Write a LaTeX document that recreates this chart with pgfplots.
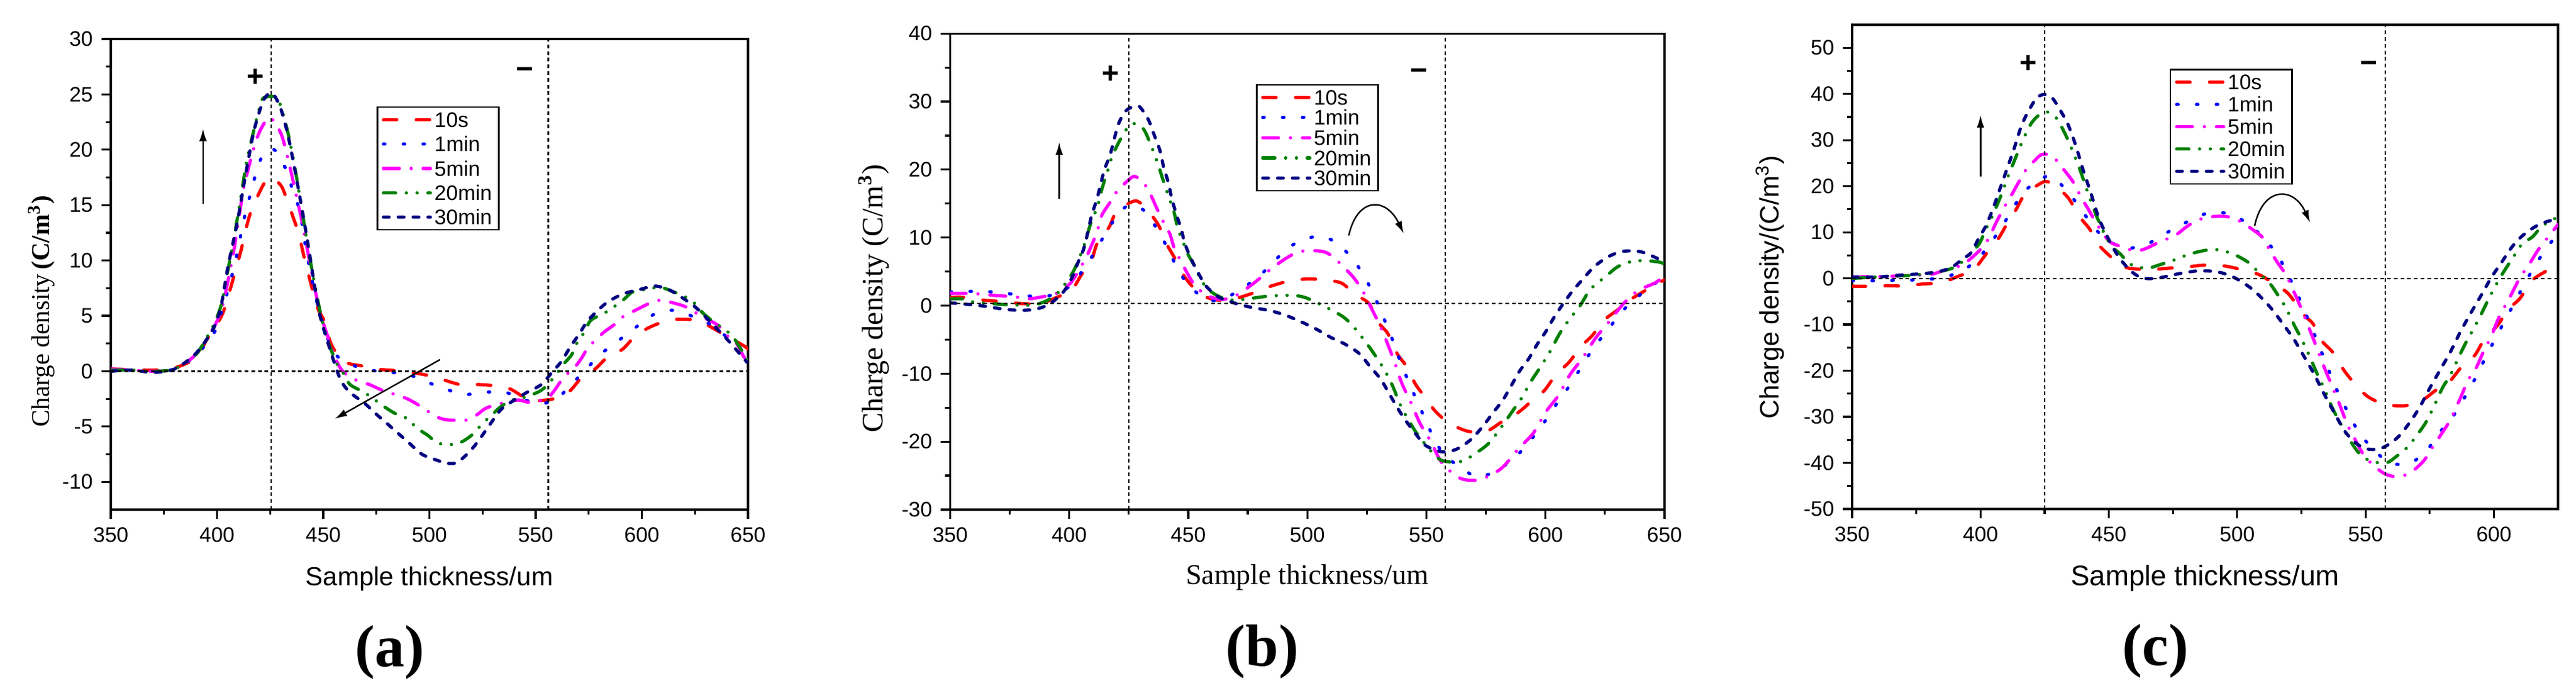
\documentclass[border=0pt]{standalone}
\usepackage{pgfplots}
\pgfplotsset{compat=1.18}
\usepackage{fontspec}
\setmainfont{Liberation Sans}
\newfontfamily\tnr{Liberation Serif}
\usetikzlibrary{arrows.meta}
\definecolor{navyc}{RGB}{0,0,128}
\definecolor{greenc}{RGB}{0,128,0}
\definecolor{magc}{RGB}{255,0,255}
\tikzset{
  refl/.style={black, line width=0.55pt, dash pattern=on 1.5pt off 1.2pt},
  arr/.style={black, line width=0.6pt, -{Latex[length=5pt,width=3pt]}},
}
\pgfplotsset{
  s10/.style={color=red, line width=1.3pt, line cap=round, dash pattern=on 5.45pt off 7.8pt},
  s1/.style={color=blue, line width=1.3pt, line cap=round, dash pattern=on 0.6pt off 7.4pt},
  s5/.style={color=magc, line width=1.3pt, line cap=round, dash pattern=on 6.4pt off 4.8pt on 0.05pt off 4.8pt},
  s20/.style={color=greenc, line width=1.3pt, line cap=round, dash pattern=on 4.95pt off 4.3pt on 0.05pt off 4.3pt on 0.05pt off 4.3pt},
  s30/.style={color=navyc, line width=1.3pt, line cap=round, dash pattern=on 2.3pt off 3.7pt},
  every axis/.append style={
    scale only axis,
    axis line style={line width=0.8pt},
    every tick/.style={line width=0.8pt, black},
    major tick length=3.75pt, minor tick length=2pt,
    tick align=outside, xtick pos=bottom, ytick pos=left,
    minor x tick num=1, minor y tick num=1,
    tick label style={font=\fontsize{8.5}{10}\selectfont},
    /pgf/number format/assume math mode=true,
    legend cell align=left,
    legend image code/.code={\draw[##1] (0pt,0pt) -- (19pt,0pt);},
    legend style={font=\fontsize{8.5}{9.5}\selectfont, draw=black, line width=0.6pt, inner sep=1.8pt, row sep=1.5pt,
      nodes={inner xsep=1pt, inner ysep=0pt, text height=6.3pt, text depth=0.3pt}},
    every axis plot/.append style={smooth, no marks},
  }
}
\begin{document}
\begin{tikzpicture}
\useasboundingbox (0,0) rectangle (1040pt,277.75pt);
% ---------------- (a) ----------------
\begin{axis}[at={(44.75pt,72pt)}, anchor=south west, width=257.25pt, height=190pt,
  xmin=350, xmax=650, ymin=-12.5, ymax=30, xtick={350,400,...,650}, ytick={-10,-5,...,30},
  xlabel={Sample thickness/um}, xlabel style={font=\fontsize{10.5}{12}\selectfont, at={(axis description cs:0.5,-0.147)}, anchor=center},
  ylabel={{\tnr Charge density}\,{\tnr\bfseries (C/m\textsuperscript{3})}}, ylabel style={font=\fontsize{10.3}{12}\selectfont, at={(axis description cs:-0.109,0.421)}, anchor=center},
  legend style={at={(0.417,0.857)}, anchor=north west, row sep=3.25pt},
  after end axis/.code={\node[font=\fontsize{24}{24}\selectfont\tnr\bfseries] at (axis description cs:0.438,-0.303) {(a)};}]
\addplot[s10] coordinates {(350,0.2)(360,0.15)(370,0.1)(380,0.3)(390,1.2)(395,2.8)(401,4.6)(403.4,5.6)(407.4,8.2)(411.4,11)(415.4,14.1)(421.4,16.7)(425,17.5)(430,16.8)(432.5,15.7)(436,13.8)(438.5,12.4)(441,10.3)(444.6,7.6)(447.6,5.6)(450.6,4.5)(453.6,2.5)(457.6,1.3)(462,0.7)(467.6,0.5)(474.6,0.2)(487.7,0)(500,-0.4)(507,-0.8)(514.5,-1.2)(522.5,-1.2)(530,-1.3)(538,-1.6)(547,-2.6)(555,-2.6)(560,-2.4)(566,-1.8)(572,-0.5)(578,0.2)(584,1.3)(591,2)(597,3.2)(604,4)(612.5,4.6)(620.5,4.7)(627.5,4.5)(632.5,4.0)(641.5,3)(648,2.3)(650,2.0)};
\addlegendentry{10s}
\addplot[s1] coordinates {(350,0.1)(360,0.1)(370,0)(380,0.2)(390,1.4)(399,3.6)(402,5.3)(405,7.2)(407.5,9)(409.5,10.7)(411.5,12.6)(413.5,14.4)(416,16.2)(418.5,18)(422,19.7)(427,20)(432.5,18.2)(435.5,16.4)(439,14.4)(442,10.9)(445,8)(448,5.5)(452,3)(456,1.5)(460.6,0.8)(469.6,0.2)(479.7,-0.1)(488.7,-0.2)(497.8,-0.9)(507.5,-1.6)(516.5,-2.1)(526,-1.9)(535.6,-1.9)(545,-2.6)(554.2,-2.9)(562.2,-2.1)(568.8,-0.8)(575.3,0.5)(582.3,1.8)(589.9,2.9)(597.4,4)(606.4,5.2)(615.9,5.5)(624.5,4.9)(632.5,4.2)(640.6,3.0)(647.6,1.9)(650,1.3)};
\addlegendentry{1min}
\addplot[s5] coordinates {(350,0.2)(360,0.1)(370,0)(380,0.2)(390,1.5)(398,3.8)(402,5.5)(405,8)(408,11)(410,13.5)(412.5,16.5)(415,18.5)(418,20.6)(421,22)(425,22.9)(430,21.5)(433,19.5)(436,17)(440,13.5)(443,10.5)(446,7.5)(449,5)(452,3.2)(455,1.5)(458,0.3)(461,-0.3)(466.6,-0.9)(471.7,-1.2)(478.7,-1.8)(485.7,-2.2)(490.7,-2.6)(497.8,-3.4)(502,-4)(506,-4.3)(509,-4.4)(518,-4.4)(522.6,-3.9)(527,-3.3)(536,-2.8)(542,-2.6)(547,-2.8)(555,-2.5)(559,-1.7)(563,-0.6)(569,0.5)(572,1.3)(575,2.2)(582,3.5)(587,4.2)(591,4.9)(599,5.7)(604.4,6.2)(609,6.4)(618,6)(623,5.6)(627.5,5)(635.5,4.2)(639.6,3.3)(644.6,2.5)(648,1.3)(650,0.9)};
\addlegendentry{5min}
\addplot[s20] coordinates {(350,0.1)(360,0.1)(370,0)(380,0.2)(390,1.5)(395,3)(398,4)(402,6)(405,9)(408,12)(411,15.5)(414,19)(417,21.5)(420,23.8)(422,24.7)(428,24.7)(431,23.3)(434,21)(437,18)(440,14.5)(443,11)(446,7.8)(449,5)(452,2.8)(456.6,0.6)(459.6,-0.2)(462.6,-1.2)(469.2,-1.9)(473.7,-2.5)(478.7,-3.2)(483.7,-3.8)(489.8,-4.3)(493.8,-5.1)(499.3,-5.8)(504,-6.5)(511.5,-6.6)(516,-6.3)(521,-5.6)(524.6,-4.8)(529.6,-3.9)(533.6,-3.2)(539,-2.6)(544,-2.4)(551,-1.9)(554.7,-1.4)(559.2,-0.4)(563,0.6)(567,1.5)(569.3,2.5)(572.8,3.5)(576,4.6)(582,5.2)(586,5.7)(591,6.4)(596,7.2)(603,7.4)(608.4,7.6)(614.5,7.2)(620.5,6.7)(624.5,6.2)(628.5,5.3)(633.5,4.5)(638.6,3.8)(642.6,3.2)(646.6,2)(650,1)};
\addlegendentry{20min}
\addplot[s30] coordinates {(350,0)(360,0.1)(370,-0.1)(380,0.2)(390,1.6)(398.4,3.9)(402,6)(405,9.3)(409.5,13.4)(413.5,17.8)(417.5,21.8)(422,24.5)(426,25.1)(430,23.7)(433.5,21.2)(437,17.8)(440.5,14.1)(443.5,10.7)(446,7.6)(448.5,5)(451.5,3)(455.5,0.6)(458.5,-0.9)(462.5,-1.9)(469.5,-2.9)(474.5,-3.8)(480.5,-4.8)(490.5,-6.5)(496.5,-7.5)(503,-8)(508,-8.3)(512,-8.3)(516,-7.8)(521,-6.8)(525.6,-5.6)(529.6,-4.5)(534,-3.4)(540,-2.6)(546,-1.9)(552.7,-1.2)(557.7,-0.1)(562.2,0.9)(566.3,2.2)(570.3,3.3)(574.3,4.5)(579.3,5.5)(584.3,6.3)(591.4,7)(599.4,7.4)(605.9,7.7)(612.4,7.4)(618.5,6.7)(624.5,5.9)(629.5,5)(634.5,4)(639.6,3)(644.6,1.9)(649.6,0.8)};
\addlegendentry{30min}
\draw[refl] (axis cs:425.5,-12.5) -- (axis cs:425.5,30);
\draw[refl] (axis cs:556,-12.5) -- (axis cs:556,30);
\draw[refl] (axis cs:350,0) -- (axis cs:650,0);
\node[font=\fontsize{12}{12}\selectfont\bfseries] at (axis cs:418,26.5) {+};
\node[font=\fontsize{12}{12}\selectfont\bfseries] at (axis cs:545,26.9) {−};
\draw[arr] (axis cs:393.4,15.1) -- (axis cs:393.4,21.9);
\draw[arr] (axis cs:505,1.05) -- (axis cs:455.4,-4.3);
\end{axis}
% ---------------- (b) ----------------
\begin{axis}[at={(383.6pt,72pt)}, anchor=south west, width=288.4pt, height=192.2pt,
  xmin=350, xmax=650, ymin=-30, ymax=40, xtick={350,400,...,650}, ytick={-30,-20,...,40},
  xlabel={\tnr Sample thickness/um}, xlabel style={font=\fontsize{11.5}{13}\selectfont, at={(axis description cs:0.5,-0.143)}, anchor=center},
  ylabel={\tnr Charge density (C/m\textsuperscript{\textbf{3}})}, ylabel style={font=\fontsize{12}{14}\selectfont, at={(axis description cs:-0.107,0.443)}, anchor=center},
  legend style={at={(0.428,0.894)}, anchor=north west, row sep=1.55pt},
  after end axis/.code={\node[font=\fontsize{24}{24}\selectfont\tnr\bfseries] at (axis description cs:0.437,-0.299) {(b)};}]
\addplot[s10] coordinates {(350,1.2)(356,1.2)(364,0.8)(372,0.6)(380,0.3)(388,0.3)(394.6,1.2)(401,2.3)(405.4,4.7)(409.3,6.6)(411.8,9.2)(416.7,11.5)(420,13.8)(428,15.4)(433.8,13.6)(437.7,11.7)(440.7,9.2)(444.6,6.8)(448,4.5)(452,2.7)(456,1.5)(460.8,0.9)(467,0.8)(476,1.7)(483.3,2.7)(491,3.5)(499,3.9)(507,3.8)(514.4,3.3)(519.9,1.7)(525.9,0.3)(529.9,-2.5)(533.8,-4.1)(537.8,-7.1)(541.8,-9)(545.3,-11.5)(549.3,-13.4)(553.7,-15.5)(559.7,-17.3)(567.7,-18.5)(575.6,-18.4)(581.6,-17.1)(588.6,-15.7)(594,-14.1)(599.5,-12.5)(604.5,-10.1)(610,-8.3)(614.4,-6.2)(619.9,-4.3)(624.4,-2.2)(630.4,-0.6)(634.3,0.6)(644.3,2.7)(650,3.8)};
\addlegendentry{10s}
\addplot[s1] coordinates {(350,2)(358.8,2.1)(368.6,2)(378.4,1.6)(387.7,1.3)(394.6,1.7)(398.5,2.4)(403.4,4.1)(408.8,6.8)(413.2,9.4)(418.1,12.2)(424.5,14.7)(431.4,14)(436.8,11.3)(441.2,8.5)(445.1,5.7)(449.5,3.3)(457.4,0.9)(464.7,1)(473.5,2.7)(480.9,4.7)(487.7,7.1)(495.6,9.3)(505,10.2)(512.4,9.2)(519.4,6.7)(524.4,4)(528.4,1.2)(531.8,-1.6)(535.3,-4.6)(538.3,-7.5)(541.6,-10.4)(545,-13.2)(548.6,-16)(552.2,-18.8)(556.7,-21.6)(562.7,-23.4)(571.6,-25.2)(580.1,-24.1)(587,-22.4)(593.5,-19.9)(599,-17.4)(604,-14.8)(609.3,-12.2)(614.2,-9.5)(618.9,-6.9)(624.2,-4.4)(629.7,-2)(635.3,0.3)(642.8,2.4)(650,4.3)};
\addlegendentry{1min}
\addplot[s5] coordinates {(350,1.8)(357,1.8)(363,1.7)(368.6,1.5)(377,1.3)(382.8,1)(388.7,1.3)(394.6,1.8)(400.5,3.3)(404.4,5.4)(407.4,7.3)(409.8,9.2)(411.8,11)(413.7,13.3)(417.2,15.2)(420.1,16.8)(425,18.5)(427.5,19)(430.9,18.2)(433.8,16.6)(436.8,14.3)(439.7,12.2)(442.2,10.6)(444.1,8.5)(447.1,6.4)(450,4.5)(453,2.9)(457.8,1.5)(464.2,0.9)(470.1,1.5)(476,2.9)(480,4)(484.8,5.4)(491.7,7.1)(497.5,8)(506,8)(510.4,7.3)(514,6.1)(519,4.3)(522.9,2.4)(525.9,0.3)(529.9,-2.5)(533,-5)(536.3,-8)(539.8,-11.5)(543.3,-14.1)(547.3,-17.3)(551.7,-19.9)(556.7,-23.2)(563.7,-25.3)(569.7,-25.7)(574.6,-25.3)(581.6,-23.9)(588.6,-21.1)(595,-18.7)(600,-15.7)(605.5,-13.2)(610.4,-10.1)(615.4,-7.8)(621,-4.8)(626.4,-2.5)(632.8,0.3)(638.8,2.2)(645.8,3.3)(650,4.3)};
\addlegendentry{5min}
\addplot[s20] coordinates {(350,1)(355,1)(360,0.5)(367,0.3)(376,0.1)(385,0.1)(391,0.8)(395.6,2)(398.5,3.3)(402,5.2)(405.9,8.5)(409.3,12.4)(411.8,14.5)(413.7,17.1)(416.2,19.9)(418.1,22)(421.6,24.5)(426,26.7)(430.9,26.1)(434.3,23.6)(437.3,20.8)(439.2,18.7)(441.7,16.1)(444.1,13.6)(445.6,11.3)(448,9.2)(449.5,7.8)(452.5,5.9)(455,4)(458.3,2.4)(463.2,1.3)(469.1,0.8)(475,1)(483.8,1.4)(493.6,1.5)(499,1.2)(506,0.1)(514.4,-1.5)(518.9,-2.9)(524.4,-5.3)(529,-7.6)(532.3,-9.4)(535.8,-11.8)(539.3,-14.8)(542.3,-16.7)(545.8,-18.7)(551.7,-21.3)(556.7,-22.8)(564.7,-22.9)(571.6,-21.5)(576.6,-20.1)(581.6,-17.8)(586.6,-15.3)(590,-13.6)(594,-11.1)(598.5,-8.7)(602,-6.7)(606,-4.1)(610.5,-1.8)(614.4,-0.1)(618.9,2.4)(625.4,4.3)(630.3,5.7)(636.3,6.5)(642.3,6.6)(647.8,6.4)(650,6.1)};
\addlegendentry{20min}
\addplot[s30] coordinates {(350,0.4)(357,0.2)(364.7,-0.1)(372,-0.5)(379.4,-0.7)(386.3,-0.5)(392,0.3)(397.5,2)(401,4)(404,6.6)(406.4,8.7)(409.3,13.1)(411.8,15.9)(414.7,19.9)(417.2,22.2)(420.6,26.6)(424,28.7)(428.4,29.4)(430.4,28.9)(433.3,27.3)(435.8,25)(438.2,22.7)(439.7,20.3)(441.7,18)(443.1,15.7)(445.1,13.3)(447,11.3)(448.5,9.2)(450.9,7.1)(453.9,5)(457.4,2.9)(461.8,1.5)(464.3,1)(470.1,0.3)(477,-0.3)(483.8,-0.7)(490.7,-1.4)(497.5,-2.4)(504,-3.5)(510,-4.7)(516,-5.7)(522,-7.1)(526.4,-9)(530.8,-10.8)(534.3,-12.9)(537.8,-15)(541.3,-16.9)(545.8,-19)(549.8,-20.6)(556.7,-21.5)(562.7,-21.1)(568.7,-19.7)(573.6,-17.8)(578.1,-15.7)(582.1,-13.9)(585.6,-11.8)(589,-9.7)(593,-7.8)(596.5,-5.7)(600,-3.9)(603.5,-1.8)(607.5,0.3)(611.5,2.2)(616,4)(620.4,5.7)(626.4,7.2)(632.8,8)(640.3,7.9)(647.3,6.9)(650,6.5)};
\addlegendentry{30min}
\draw[refl] (axis cs:425,-30) -- (axis cs:425,40);
\draw[refl] (axis cs:558,-30) -- (axis cs:558,40);
\draw[refl] (axis cs:350,0.3) -- (axis cs:650,0.3);
\node[font=\fontsize{12}{12}\selectfont\bfseries] at (axis cs:417.4,34) {+};
\node[font=\fontsize{12}{12}\selectfont\bfseries] at (axis cs:546.8,34) {−};
\draw[arr] (axis cs:395.8,15.7) -- (axis cs:395.8,24);
\draw[arr] (axis cs:517.4,10.3) .. controls (axis cs:521,16) and (axis cs:533,16) .. (axis cs:540.5,10.6);
\end{axis}
% ---------------- (c) ----------------
\begin{axis}[at={(747.75pt,72.25pt)}, anchor=south west, width=285pt, height=195.5pt,
  xmin=350, xmax=625, ymin=-50, ymax=55, xtick={350,400,...,600}, ytick={-50,-40,...,50},
  xlabel={Sample thickness/um}, xlabel style={font=\fontsize{11.4}{13}\selectfont, at={(axis description cs:0.5,-0.143)}, anchor=center},
  ylabel={Charge density/(C/m\textsuperscript{3})}, ylabel style={font=\fontsize{10.7}{12}\selectfont, at={(axis description cs:-0.116,0.458)}, anchor=center},
  legend style={at={(0.45,0.909)}, anchor=north west, row sep=2.4pt},
  after end axis/.code={\node[font=\fontsize{24}{24}\selectfont\tnr\bfseries] at (axis description cs:0.43,-0.294) {(c)};}]
\addplot[s10] coordinates {(350,-1.7)(355.8,-1.7)(363,-1.6)(370.5,-1.6)(377.7,-1.2)(384.8,-0.9)(391.5,0.5)(397.3,1.9)(402.2,5.3)(406.7,8.4)(410.3,11.8)(413.8,14.9)(417.4,18.3)(423.7,20.7)(426,21)(429.5,20)(434.4,17.3)(438.4,13.5)(442.4,10.8)(446,7.3)(450.9,4.6)(454,3)(458,2.2)(465.6,1.9)(472.8,2.2)(480.4,2.5)(487.8,2.9)(495,2.7)(501.8,1.9)(508.6,0.8)(514.5,-1.2)(519.9,-3.3)(526.3,-8.1)(529.5,-9.8)(533.1,-13.6)(537.2,-16)(541.3,-19.7)(545.3,-22.5)(550.8,-25.6)(557.6,-27.3)(565.3,-27.6)(571.6,-26.6)(577.5,-24.2)(582.5,-22.5)(587.5,-19.1)(592.5,-16.7)(596.6,-12.9)(601.5,-10.1)(605.6,-6.7)(610.2,-4.3)(614.7,-0.5)(620.1,1.5)(625,3)};
\addlegendentry{10s}
\addplot[s1] coordinates {(350,-0.4)(358,-0.5)(366.5,-0.4)(375.4,-0.3)(384.4,0.1)(392.4,1.5)(398.7,4.1)(404,7.7)(409,11.8)(413.4,15.9)(417.9,19.3)(426.3,22.2)(432.6,19.7)(438,15.9)(442.9,12.1)(447.8,9)(455.8,6.6)(464.3,7.3)(471.9,9.7)(479.9,12.1)(488.7,14.2)(496.8,14)(504,11.9)(510.4,8.7)(515.9,4.9)(519.9,0.7)(523.6,-3.6)(526.7,-7.7)(529.9,-11.9)(533.1,-16.3)(536.3,-20.8)(539.4,-24.9)(543.1,-29)(547.1,-33.1)(552.1,-36.5)(559.4,-40)(567.5,-40)(573.9,-37.2)(578.9,-33.4)(584.3,-29.7)(588.8,-25.6)(592.9,-21.5)(596.6,-17.3)(600.4,-13.2)(604.3,-9.1)(608.3,-5)(612.2,-0.9)(616.5,3.2)(621,7)(625,9.5)};
\addlegendentry{1min}
\addplot[s5] coordinates {(350,0.3)(360,0.4)(367,0.5)(375,0.7)(381,0.9)(385,1.6)(390,2.4)(393,2.9)(396,4.2)(400,6.3)(403,8.5)(406,12)(409,15.2)(412,18)(415,21)(418,23.8)(421,25.5)(424,26.9)(428,26.5)(432,23.9)(436,21)(439,17.8)(442,15)(445,12.1)(448,9.5)(451,7.7)(455,6.9)(460,6)(464,6.4)(469,7.7)(476,9.4)(480,11.1)(484,12.5)(488,13.2)(493,13.5)(498,13.2)(502,12.1)(506,10.6)(510,8.8)(513,5.8)(516,3.2)(519,0.8)(522,-2.8)(525,-6.6)(528,-10.8)(531,-15)(534,-19.4)(537,-23.4)(540,-27.5)(543,-31.8)(546,-35)(549,-38)(553,-40.5)(557.6,-42.4)(562,-43)(566.6,-42.4)(570,-41)(573,-39.3)(576,-36.7)(579,-34.2)(583,-30.7)(586.5,-26.5)(590,-22)(593,-19.5)(596,-15.8)(599,-12.5)(602,-8.4)(606,-4.3)(610,0)(614,3.3)(617,6)(620,8.2)(625,11.7)};
\addlegendentry{5min}
\addplot[s20] coordinates {(350,0)(359,0.3)(365,0.5)(372,0.6)(380,1.1)(385,1.6)(389,2.2)(392,3.2)(396,5.3)(399.6,7.6)(402,10.6)(405,14)(408,18)(411,22.5)(414,26.6)(417,30.6)(420,33.8)(423,35.5)(426,36.1)(429.5,34.8)(433,31.3)(436,27.5)(439,23.2)(442,18.3)(445,13.8)(448,10)(451,7)(454.5,5.3)(458,3.2)(463,2.3)(466,2.3)(470,3)(475,3.9)(480,5)(485,5.8)(491,6.3)(497,5.6)(501,4.6)(505,3.2)(509,0.9)(513,-1.3)(516.3,-4)(519,-6.4)(522,-9.9)(525,-13.1)(528,-16.6)(531,-20.5)(534,-24)(537,-28)(540,-31.2)(543.5,-34.7)(547.5,-37.9)(552,-39.6)(558,-40)(562,-38.6)(566.5,-36.5)(570,-34)(573.5,-31.2)(577,-27.3)(580,-23.7)(583,-21)(586,-17.4)(589,-14)(592,-11)(595,-7.8)(598,-4.4)(601,-1.2)(604,1.6)(608,5)(611,7.5)(615,9)(618.3,11.1)(622,12.5)(625,13.3)};
\addlegendentry{20min}
\addplot[s30] coordinates {(350,0.3)(360,0.3)(368,0.7)(377,1)(384,1.5)(389,2.5)(393,4.2)(396.4,5.6)(399,8.4)(402,11.3)(404.5,14.6)(407,18.5)(410,23.2)(413,28)(416,33.2)(419,36.6)(422,39.2)(425,39.9)(428,39.1)(431,36.5)(434,33.5)(437,29)(440,23.5)(443,18.5)(446,13.2)(449,9.5)(452,6.3)(455,3.8)(459,1.4)(463,0.1)(468,0)(473,0.5)(478,1.1)(484,1.6)(489,1.6)(494,1.2)(498,0.4)(502,-0.8)(506,-2.4)(510,-4.5)(514,-7)(518,-10)(522,-13.1)(526,-16.9)(530,-20.8)(534,-25.2)(538,-29.3)(542,-33.2)(546,-35.6)(550,-36.9)(555,-37)(559,-36)(563,-34.2)(567,-31.4)(571,-28)(575,-23.8)(579,-19.9)(583,-16)(587,-11.5)(591,-7.5)(595,-3.7)(599,0.2)(603,3.5)(607,6.8)(611,9.2)(616,11.2)(620,12.2)(625,13)};
\addlegendentry{30min}
\draw[refl] (axis cs:425,-50) -- (axis cs:425,55);
\draw[refl] (axis cs:557.6,-50) -- (axis cs:557.6,55);
\draw[refl] (axis cs:350,0) -- (axis cs:625,0);
\node[font=\fontsize{12}{12}\selectfont\bfseries] at (axis cs:418.5,46.5) {+};
\node[font=\fontsize{12}{12}\selectfont\bfseries] at (axis cs:551.2,45.9) {−};
\draw[arr] (axis cs:400,22.1) -- (axis cs:400,35.4);
\draw[arr] (axis cs:506.8,11.4) .. controls (axis cs:510,20) and (axis cs:522,20) .. (axis cs:528.4,12.1);
\end{axis}
\end{tikzpicture}
\end{document}
